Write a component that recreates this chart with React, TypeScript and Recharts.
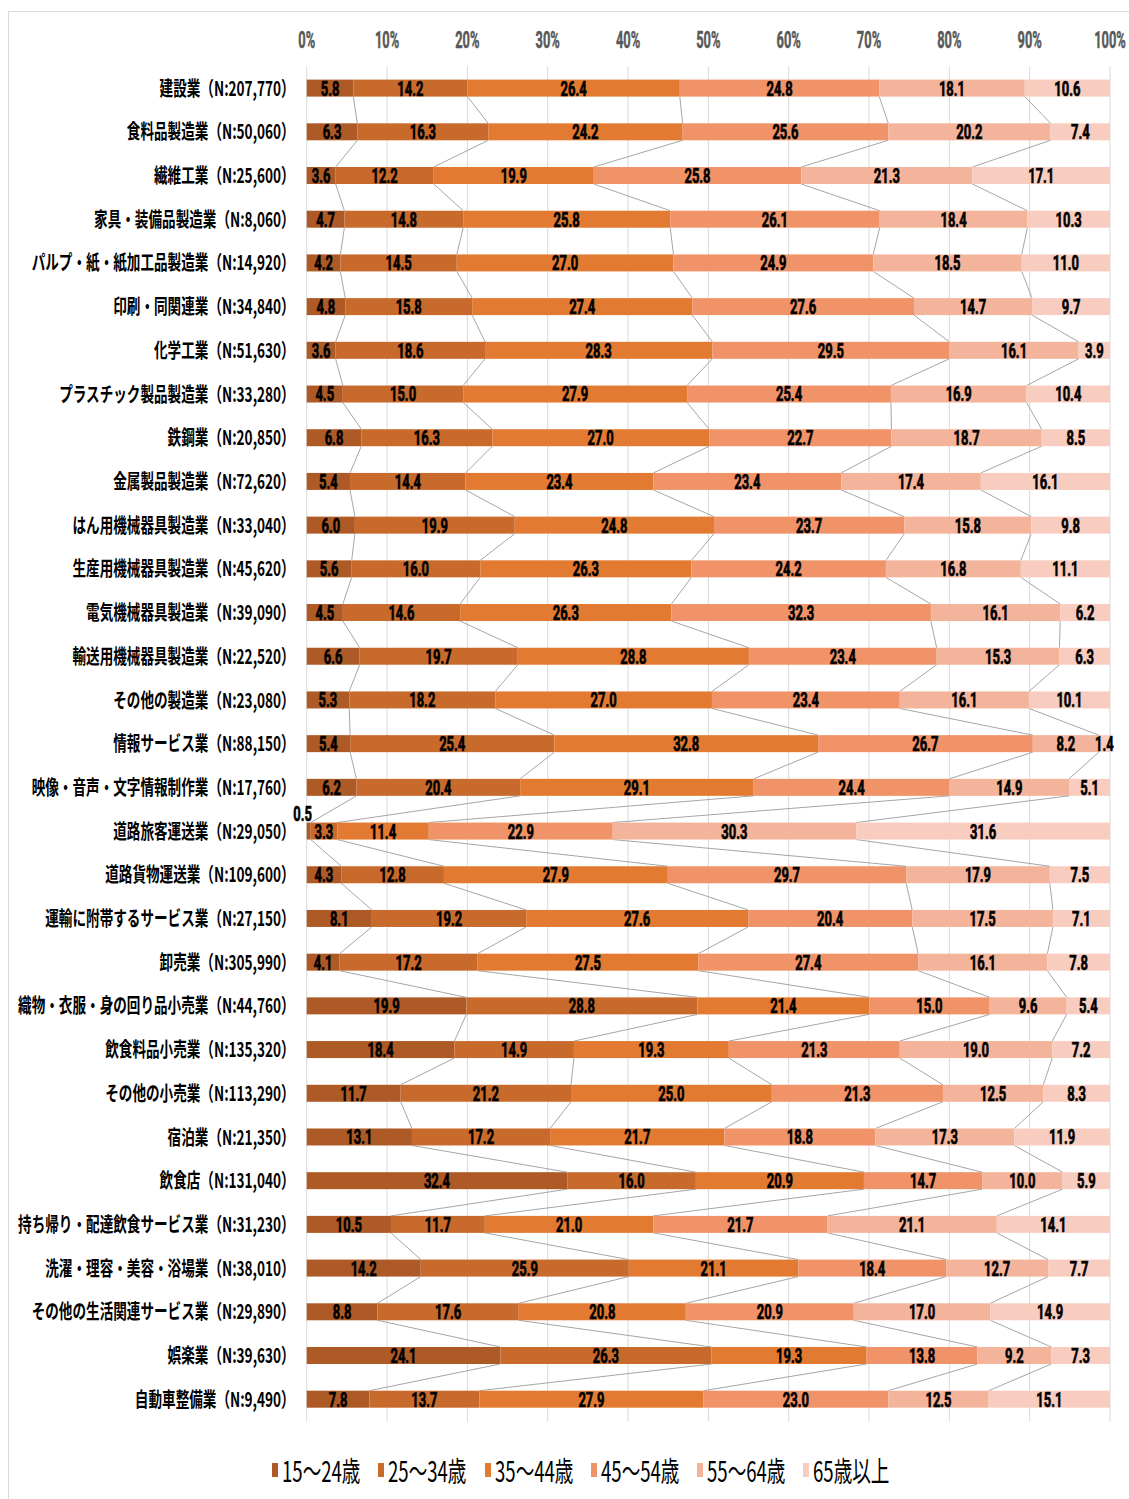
import React from "react";
import { BarChart, Bar, XAxis, YAxis, CartesianGrid, Legend, LabelList } from "recharts";

const categories = [
  "建設業（N:207,770）",
  "食料品製造業（N:50,060）",
  "繊維工業（N:25,600）",
  "家具・装備品製造業（N:8,060）",
  "パルプ・紙・紙加工品製造業（N:14,920）",
  "印刷・同関連業（N:34,840）",
  "化学工業（N:51,630）",
  "プラスチック製品製造業（N:33,280）",
  "鉄鋼業（N:20,850）",
  "金属製品製造業（N:72,620）",
  "はん用機械器具製造業（N:33,040）",
  "生産用機械器具製造業（N:45,620）",
  "電気機械器具製造業（N:39,090）",
  "輸送用機械器具製造業（N:22,520）",
  "その他の製造業（N:23,080）",
  "情報サービス業（N:88,150）",
  "映像・音声・文字情報制作業（N:17,760）",
  "道路旅客運送業（N:29,050）",
  "道路貨物運送業（N:109,600）",
  "運輸に附帯するサービス業（N:27,150）",
  "卸売業（N:305,990）",
  "織物・衣服・身の回り品小売業（N:44,760）",
  "飲食料品小売業（N:135,320）",
  "その他の小売業（N:113,290）",
  "宿泊業（N:21,350）",
  "飲食店（N:131,040）",
  "持ち帰り・配達飲食サービス業（N:31,230）",
  "洗濯・理容・美容・浴場業（N:38,010）",
  "その他の生活関連サービス業（N:29,890）",
  "娯楽業（N:39,630）",
  "自動車整備業（N:9,490）",
];

const age15to24 = [5.8, 6.3, 3.6, 4.7, 4.2, 4.8, 3.6, 4.5, 6.8, 5.4, 6.0, 5.6, 4.5, 6.6, 5.3, 5.4, 6.2, 0.5, 4.3, 8.1, 4.1, 19.9, 18.4, 11.7, 13.1, 32.4, 10.5, 14.2, 8.8, 24.1, 7.8];
const age25to34 = [14.2, 16.3, 12.2, 14.8, 14.5, 15.8, 18.6, 15.0, 16.3, 14.4, 19.9, 16.0, 14.6, 19.7, 18.2, 25.4, 20.4, 3.3, 12.8, 19.2, 17.2, 28.8, 14.9, 21.2, 17.2, 16.0, 11.7, 25.9, 17.6, 26.3, 13.7];
const age35to44 = [26.4, 24.2, 19.9, 25.8, 27.0, 27.4, 28.3, 27.9, 27.0, 23.4, 24.8, 26.3, 26.3, 28.8, 27.0, 32.8, 29.1, 11.4, 27.9, 27.6, 27.5, 21.4, 19.3, 25.0, 21.7, 20.9, 21.0, 21.1, 20.8, 19.3, 27.9];
const age45to54 = [24.8, 25.6, 25.8, 26.1, 24.9, 27.6, 29.5, 25.4, 22.7, 23.4, 23.7, 24.2, 32.3, 23.4, 23.4, 26.7, 24.4, 22.9, 29.7, 20.4, 27.4, 15.0, 21.3, 21.3, 18.8, 14.7, 21.7, 18.4, 20.9, 13.8, 23.0];
const age55to64 = [18.1, 20.2, 21.3, 18.4, 18.5, 14.7, 16.1, 16.9, 18.7, 17.4, 15.8, 16.8, 16.1, 15.3, 16.1, 8.2, 14.9, 30.3, 17.9, 17.5, 16.1, 9.6, 19.0, 12.5, 17.3, 10.0, 21.1, 12.7, 17.0, 9.2, 12.5];
const age65plus = [10.6, 7.4, 17.1, 10.3, 11.0, 9.7, 3.9, 10.4, 8.5, 16.1, 9.8, 11.1, 6.2, 6.3, 10.1, 1.4, 5.1, 31.6, 7.5, 7.1, 7.8, 5.4, 7.2, 8.3, 11.9, 5.9, 14.1, 7.7, 14.9, 7.3, 15.1];

const seriesNames = ["15～24歳", "25～34歳", "35～44歳", "45～54歳", "55～64歳", "65歳以上"];
const seriesKeys = ["s1", "s2", "s3", "s4", "s5", "s6"];
const seriesColors = ["#AE5A26", "#C96A2D", "#E27B31", "#F09368", "#F4B49B", "#F8CDBF"];
const seriesValues = [age15to24, age25to34, age35to44, age45to54, age55to64, age65plus];

const tickValues = [0, 0.1, 0.2, 0.3, 0.4, 0.5, 0.6, 0.7, 0.8, 0.9, 1];
const tickLabels = ["0%", "10%", "20%", "30%", "40%", "50%", "60%", "70%", "80%", "90%", "100%"];

const data = categories.map((name, i) => {
  const row: Record<string, any> = { name };
  seriesKeys.forEach((k, s) => {
    row[k] = seriesValues[s][i];
  });
  return row;
});

const NUMFONT = "Roboto, 'Noto Sans', sans-serif";
const CJK = "'Noto Sans CJK JP', 'Noto Sans', sans-serif";

// geometry registry for series lines
const geo: Record<number, { x: number; y: number; w: number; h: number }[]> = {};

function makeShape(k: number) {
  return (props: any) => {
    const { x, y, width, height, index } = props;
    if (!geo[k]) geo[k] = [];
    geo[k][index] = { x, y, w: width, h: height };
    const prev = index > 0 ? geo[k][index - 1] : undefined;
    return (
      <g>
        <rect x={x} y={y} width={width} height={height} fill={seriesColors[k]} />
        {k < 5 && prev && (
          <line
            x1={prev.x + prev.w}
            y1={prev.y + prev.h}
            x2={x + width}
            y2={y}
            stroke="#A6A6A6"
            strokeWidth={1}
          />
        )}
      </g>
    );
  };
}
const shapes = seriesKeys.map((_, k) => makeShape(k));

const renderLabel = (p: any) => {
  const vb = p.viewBox || {};
  const x = p.x ?? vb.x;
  const y = p.y ?? vb.y;
  const width = p.width ?? vb.width;
  const height = p.height ?? vb.height;
  const v = Number(p.value);
  let cx = x + width / 2;
  let cy = y + height / 2;
  if (v < 1) {
    cx = x - 4;
    cy = y - 9;
  }
  return (
    <text
      transform={`translate(${cx},${cy}) scale(0.62,1)`}
      textAnchor="middle"
      dy="0.355em"
      fontFamily={NUMFONT}
      fontWeight="bold"
      fontSize={21}
      fill="#000"
      stroke="#000"
      strokeWidth={0.7}
    >
      {v.toFixed(1)}
    </text>
  );
};

const XTick = (p: any) => {
  const { x, y, payload, index } = p;
  const label = tickLabels[index] ?? `${Math.round(payload.value * 100)}%`;
  return (
    <text
      transform={`translate(${x},${y - 18.2}) scale(0.56,1)`}
      textAnchor="middle"
      fontFamily={NUMFONT}
      fontWeight="bold"
      fontSize={23}
      fill="#595959"
      stroke="#595959"
      strokeWidth={0.5}
    >
      {label}
    </text>
  );
};

const YTick = (p: any) => {
  const { x, y, payload } = p;
  return (
    <g transform={`translate(${x - 12},${y})`}>
      <text
        transform="scale(0.68,1)"
        textAnchor="end"
        dy="0.36em"
        fontFamily={CJK}
        fontWeight="bold"
        fontSize={20}
        fill="#000"
      >
        {payload.value}
      </text>
    </g>
  );
};

const LegendContent = (p: any) => {
  const payload = p.payload || [];
  return (
    <div style={{ height: 40, display: "flex", alignItems: "center", paddingLeft: 263 }}>
      {payload.map((item: any, i: number) => (
        <div key={i} style={{ width: 106.3, display: "flex", alignItems: "center", flexShrink: 0 }}>
          <span
            style={{
              display: "inline-block",
              width: 6,
              height: 14,
              background: seriesColors[seriesNames.indexOf(item.value)] || item.color,
              flexShrink: 0,
            }}
          />
          <span
            style={{
              display: "inline-block",
              marginLeft: 4,
              fontFamily: CJK,
              fontSize: 26,
              lineHeight: 1,
              whiteSpace: "nowrap",
              color: "#000",
              transform: "scale(0.715,1.1)",
              transformOrigin: "left center",
            }}
          >
            {item.value}
          </span>
        </div>
      ))}
    </div>
  );
};

export default function App() {
  return (
    <>
      <style>{"html,body{margin:0;padding:0;overflow:hidden;background:#fff}"}</style>
      <div
        style={{
          position: "absolute",
          left: 8,
          top: 11,
          width: 1121,
          height: 1488,
          borderLeft: "1px solid #D9D9D9",
          borderTop: "1px solid #D9D9D9",
          boxSizing: "border-box",
        }}
      >
        <BarChart
          width={1120}
          height={1487}
          data={data}
          layout="vertical"
          stackOffset="expand"
          margin={{ top: 0, right: 19, bottom: 77.6, left: 0 }}
        >
          <CartesianGrid horizontal={false} vertical stroke="#D9D9D9" />
          <XAxis
            type="number"
            orientation="top"
            domain={[0, 1]}
            ticks={tickValues}
            height={54.6}
            tickLine={false}
            axisLine={false}
            tickSize={0}
            tickMargin={0}
            tick={<XTick />}
            interval={0}
          />
          <YAxis
            type="category"
            dataKey="name"
            width={297.7}
            tickLine={false}
            axisLine={false}
            tickSize={0}
            tickMargin={0}
            tick={<YTick />}
            interval={0}
          />
          <Legend
            layout="horizontal"
            verticalAlign="middle"
            align="center"
            wrapperStyle={{ top: 1438, left: 0, width: 1120, height: 40 }}
            content={<LegendContent />}
          />
          {seriesKeys.map((key, k) => (
            <Bar
              key={key}
              dataKey={key}
              name={seriesNames[k]}
              stackId="a"
              fill={seriesColors[k]}
              barSize={17}
              isAnimationActive={false}
              shape={shapes[k]}
            >
              <LabelList dataKey={key} content={renderLabel} />
            </Bar>
          ))}
        </BarChart>
      </div>
    </>
  );
}
